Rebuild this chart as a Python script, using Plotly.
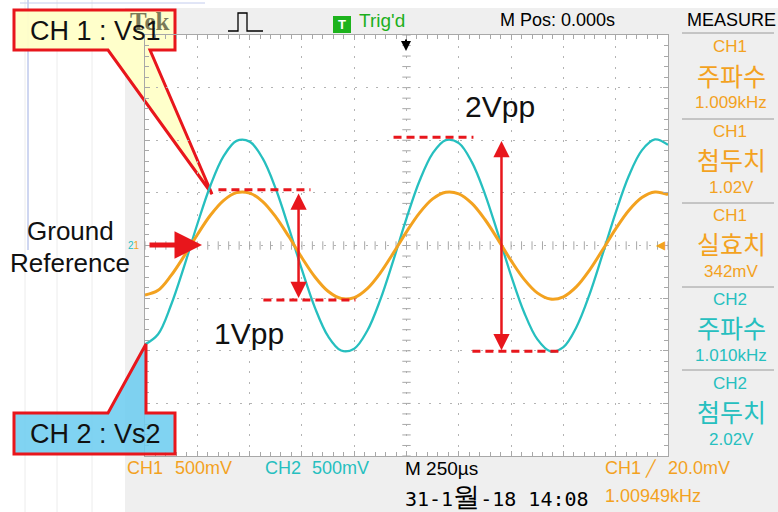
import plotly.graph_objects as go

# ---------------- data ----------------
time_us = [-1250, -1187.5, -1125, -1062.5, -1000, -937.5, -875, -812.5, -750, -687.5,
           -625, -562.5, -500, -437.5, -375, -312.5, -250, -187.5, -125, -62.5,
           0, 62.5, 125, 187.5, 250, 312.5, 375, 437.5, 500, 562.5,
           625, 687.5, 750, 812.5, 875, 937.5, 1000, 1062.5, 1125, 1187.5, 1250]

ch1_volts = [-0.47, -0.426, -0.284, -0.099, 0.102, 0.287, 0.427, 0.502, 0.498, 0.418,
             0.272, 0.085, -0.116, -0.299, -0.435, -0.504, -0.495, -0.409, -0.260, -0.070,
             0.130, 0.310, 0.443, 0.506, 0.491, 0.400, 0.247, 0.056, -0.144, -0.322,
             -0.450, -0.508, -0.487, -0.391, -0.234, -0.041, 0.158, 0.333, 0.456, 0.509, 0.483]

ch2_volts = [-0.94, -0.843, -0.563, -0.196, 0.202, 0.568, 0.846, 0.994, 0.987, 0.827,
             0.539, 0.167, -0.230, -0.592, -0.862, -0.998, -0.980, -0.810, -0.514, -0.139,
             0.258, 0.615, 0.876, 1.002, 0.973, 0.792, 0.489, 0.110, -0.286, -0.637,
             -0.890, -1.005, -0.965, -0.774, -0.464, -0.082, 0.313, 0.660, 0.904, 1.008, 0.956]

measure_channel = ["CH1", "CH1", "CH1", "CH2", "CH2"]
measure_name = ["주파수", "첨두치", "실효치", "주파수", "첨두치"]
measure_value = ["1.009kHz", "1.02V", "342mV", "1.010kHz", "2.02V"]

# ---------------- styling ----------------
ORANGE = '#F3A21F'
CYAN = '#26BFBF'
RED = '#E8161C'
GRID = '#B4B4B4'
PANEL = '#EFEFEF'
SANS = 'Liberation Sans, Arial, sans-serif'
KR = 'Noto Sans CJK KR, sans-serif'

W, H = 778, 512
L, R, T, B = 145, 110, 35, 56
PW, PH = W - L - R, H - T - B


def fx(x):
    return (x - L) / PW


def fy(y):
    return (H - B - y) / PH


def txt(x, y, s, size, color='black', family=SANS, xanchor='center', yanchor='middle'):
    return dict(x=fx(x), y=fy(y), xref='paper', yref='paper', text=s, showarrow=False,
                font=dict(size=size, color=color, family=family),
                xanchor=xanchor, yanchor=yanchor)


def path(points, close=True):
    s = 'M ' + ' L '.join(f'{fx(a):.5f},{fy(b):.5f}' for a, b in points)
    return s + (' Z' if close else '')


fig = go.Figure()

# centre graticule tick marks (decoration)
fig.add_trace(go.Scatter(x=[v * 50 for v in range(-25, 26)], y=[0] * 51, mode='markers',
                         marker=dict(symbol='line-ns', size=6, line=dict(color='#A8A8A8', width=1)),
                         hoverinfo='skip', showlegend=False))
fig.add_trace(go.Scatter(x=[0] * 41, y=[v * 0.1 for v in range(-20, 21)], mode='markers',
                         marker=dict(symbol='line-ew', size=6, line=dict(color='#A8A8A8', width=1)),
                         hoverinfo='skip', showlegend=False))

# waveforms
fig.add_trace(go.Scatter(x=time_us, y=ch2_volts, mode='lines', name='CH2',
                         line=dict(color=CYAN, width=2.3, shape='spline', smoothing=1.0),
                         showlegend=False))
fig.add_trace(go.Scatter(x=time_us, y=ch1_volts, mode='lines', name='CH1',
                         line=dict(color=ORANGE, width=3, shape='spline', smoothing=1.0),
                         showlegend=False))

shapes = []
# document background faint lines (left)
for xv in [25, 57, 92]:
    shapes.append(dict(type='line', xref='paper', yref='paper', x0=fx(xv), x1=fx(xv),
                       y0=fy(0), y1=fy(512), line=dict(color='#ECECEC', width=1), layer='below'))
shapes.append(dict(type='line', xref='paper', yref='paper', x0=fx(28), x1=fx(28),
                   y0=fy(0), y1=fy(250), line=dict(color='#9FAEE2', width=1), layer='below'))
shapes.append(dict(type='line', xref='paper', yref='paper', x0=fx(20), x1=fx(205),
                   y0=fy(3), y1=fy(3), line=dict(color='#C3CCEE', width=1), layer='below'))

# scope frame panels (outside the screen)
for (x0, y0, x1, y1) in [(125, 8, 778, 35), (125, 35, 145, 456), (668, 35, 778, 456), (125, 456, 778, 512)]:
    shapes.append(dict(type='rect', xref='paper', yref='paper', x0=fx(x0), x1=fx(x1),
                       y0=fy(y0), y1=fy(y1), fillcolor=PANEL, line=dict(width=0), layer='below'))

# measure panel separators
for yv in [33, 119, 203, 287, 370]:
    shapes.append(dict(type='line', xref='paper', yref='paper', x0=fx(682), x1=fx(774),
                       y0=fy(yv), y1=fy(yv), line=dict(color='#9A9A9A', width=1)))

# trigger pulse glyph
shapes.append(dict(type='path', xref='paper', yref='paper',
                   path=path([(228, 31), (238, 31), (238, 13), (247, 13), (247, 31), (263, 31)], close=False),
                   line=dict(color='black', width=1.3)))
# green T box
shapes.append(dict(type='rect', xref='paper', yref='paper', x0=fx(333), x1=fx(351),
                   y0=fy(16), y1=fy(33), fillcolor='#1DB31D', line=dict(width=0)))

# dashed peak lines
shapes += [
    dict(type='line', x0=-899, x1=-459, y0=max(ch1_volts) + 0.02, y1=max(ch1_volts) + 0.02,
         line=dict(color=RED, width=3, dash='8px,5px')),
    dict(type='line', x0=-684, x1=-244, y0=min(ch1_volts) - 0.01, y1=min(ch1_volts) - 0.01,
         line=dict(color=RED, width=3, dash='8px,5px')),
    dict(type='line', x0=-62, x1=320, y0=max(ch2_volts) + 0.02, y1=max(ch2_volts) + 0.02,
         line=dict(color=RED, width=3, dash='8px,5px')),
    dict(type='line', x0=315, x1=750, y0=min(ch2_volts), y1=min(ch2_volts),
         line=dict(color=RED, width=3, dash='8px,5px')),
]

# callout 1 (yellow) - below the texts so the 'Tek' logo shows on top
shapes.append(dict(type='path', xref='paper', yref='paper', layer='below',
                   path=path([(14, 10), (175, 10), (175, 50), (150, 50), (212, 194),
                              (108, 50), (14, 50)]),
                   fillcolor='rgba(255,255,200,0.95)', line=dict(color=RED, width=3)))
# callout 2 (blue)
shapes.append(dict(type='path', xref='paper', yref='paper', layer='above',
                   path=path([(14, 413), (108, 413), (146, 344), (146, 413), (175, 413),
                              (175, 454), (14, 454)]),
                   fillcolor='rgba(110,205,240,0.88)', line=dict(color=RED, width=3)))

ann = []
# top bar
ann.append(txt(149, 22, '<b>Tek</b>', 25, '#7A7A58', 'Liberation Serif, serif'))
ann.append(txt(342, 24.5, '<b>T</b>', 13, 'white'))
ann.append(txt(357, 20, "Trig'd", 19, '#1DAF1D', xanchor='left'))
ann.append(txt(557, 20, 'M Pos: 0.000s', 18))
ann.append(txt(731, 20, 'MEASURE', 18))

# measure panel
for i in range(len(measure_channel)):
    col = ORANGE if measure_channel[i] == 'CH1' else CYAN
    y0 = 47 + 84 * i
    ann.append(txt(730, y0, measure_channel[i], 17, col))
    ann.append(txt(731, y0 + 28, measure_name[i], 25, col, KR))
    ann.append(txt(731, y0 + 56, measure_value[i], 17, col))

# bottom bar
ann.append(txt(125, 468, 'CH1', 18, ORANGE, xanchor='left'))
ann.append(txt(173, 468, '500mV', 18, ORANGE, xanchor='left'))
ann.append(txt(263, 468, 'CH2', 18, CYAN, xanchor='left'))
ann.append(txt(310, 468, '500mV', 18, CYAN, xanchor='left'))
ann.append(txt(403, 468, 'M 250µs', 19, xanchor='left'))
ann.append(txt(603, 468, 'CH1', 18, ORANGE, xanchor='left'))
ann.append(txt(643, 468, '╱', 16, ORANGE, xanchor='left'))
ann.append(txt(666, 468, '20.0mV', 18, ORANGE, xanchor='left'))
ann.append(txt(403, 496, '31-1<span style="font-size:27px">월</span>-18 14:08', 20,
               'black', 'DejaVu Sans Mono, monospace', xanchor='left'))
ann.append(txt(603, 496, '1.00949kHz', 18, ORANGE, xanchor='left'))

# channel ground marker (CH2 "2" and CH1 "1" share the ground level)
ann.append(txt(134, 245, f'<span style="color:{CYAN}">2</span><span style="color:{ORANGE}">1</span>',
               10, ORANGE))
ann.append(txt(668, 245, '◀', 12, ORANGE, xanchor='right'))
# trigger position arrow
ann.append(dict(x=fx(406), y=fy(51), xref='paper', yref='paper', ax=0, ay=-13,
                showarrow=True, arrowhead=2, arrowsize=1, arrowwidth=2, arrowcolor='black', text=''))

# callout texts
ann.append(txt(95, 31, 'CH 1 : Vs1', 27, '#111111'))
ann.append(txt(95, 434, 'CH 2 : Vs2', 27, '#111111'))

# Ground reference
ann.append(txt(70, 231, 'Ground', 26, '#111111'))
ann.append(txt(70, 263, 'Reference', 26, '#111111'))
ann.append(dict(x=fx(202), y=fy(245), xref='paper', yref='paper', ax=-54, ay=0,
                showarrow=True, arrowhead=2, arrowsize=1.1, arrowwidth=5, arrowcolor=RED, text=''))

# Vpp labels and double arrows
ann.append(txt(249, 334, '1Vpp', 30, '#111111'))
ann.append(txt(500, 106, '2Vpp', 30, '#111111'))
ann.append(dict(x=-516, y=min(ch1_volts) + 0.01, ax=-516, ay=max(ch1_volts),
                xref='x', yref='y', axref='x', ayref='y', showarrow=True, text='',
                arrowhead=2, arrowside='end+start', arrowsize=1.3, arrowwidth=2.5, arrowcolor=RED))
ann.append(dict(x=454, y=min(ch2_volts) + 0.01, ax=454, ay=max(ch2_volts),
                xref='x', yref='y', axref='x', ayref='y', showarrow=True, text='',
                arrowhead=2, arrowside='end+start', arrowsize=1.3, arrowwidth=2.5, arrowcolor=RED))

axis_common = dict(showticklabels=False, zeroline=False, showgrid=True, gridcolor=GRID,
                   griddash='2px,8.5px', gridwidth=1, ticks='inside', ticklen=5,
                   tickcolor='#A8A8A8', showline=True, linecolor='#A8A8A8', linewidth=1,
                   mirror='allticks', fixedrange=True)

fig.update_layout(
    width=W, height=H,
    margin=dict(l=L, r=R, t=T, b=B, pad=0),
    paper_bgcolor='white', plot_bgcolor='white',
    xaxis=dict(range=[-1250, 1250], dtick=250, tick0=0,
               minor=dict(dtick=50, ticks='inside', ticklen=4, tickcolor='#A8A8A8', showgrid=False),
               **axis_common),
    yaxis=dict(range=[-2, 2], dtick=0.5, tick0=0,
               minor=dict(dtick=0.1, ticks='inside', ticklen=4, tickcolor='#A8A8A8', showgrid=False),
               **axis_common),
    shapes=shapes,
    annotations=ann,
    showlegend=False,
)

fig.write_html('out.html', config={'displayModeBar': False},
               post_script="document.body.style.margin='0px';document.body.style.overflow='hidden';")
